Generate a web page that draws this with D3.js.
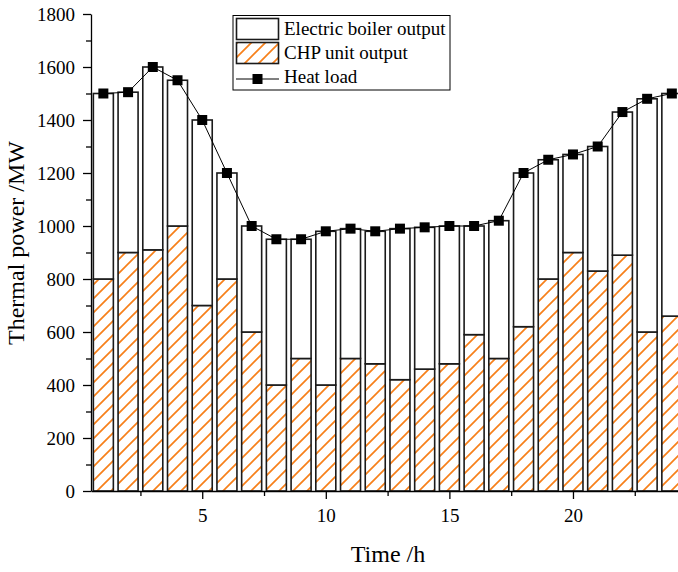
<!DOCTYPE html>
<meta charset="utf-8">
<style>
body { margin: 0; background: #fff; }
svg { display: block; font-family: "Liberation Serif", "Times New Roman", serif; }
.axis path, .axis line { stroke: #000; stroke-width: 1.3; }
.axis text { font-size: 19px; fill: #000; font-family: "Liberation Serif", "Times New Roman", serif; }
</style>
<svg width="678" height="572"></svg>
<script src="https://d3js.org/d3.v7.min.js"></script>
<script>

// hourly values (MW)
var hours = d3.range(1, 25);
var heatLoad = [1500,1505,1600,1550,1400,1200,1000,950,950,980,990,980,
                990,995,1000,1000,1020,1200,1250,1270,1300,1430,1480,1500];
var chpOutput = [800,900,910,1000,700,800,600,400,500,400,500,480,
                 420,460,480,590,500,620,800,900,830,890,600,660];
var boilerOutput = [700,605,690,550,700,400,400,550,450,580,490,500,
                    570,535,520,410,520,580,450,370,470,540,880,840];
var yTicks = [0,200,400,600,800,1000,1200,1400,1600,1800];
var xTicks = [5,10,15,20];

var svg = d3.select("svg");

var x = d3.scaleLinear().domain([0.5, 24.5]).range([91, 684.2]);
var y = d3.scaleLinear().domain([0, 1800]).range([491, 14]);
var barW = 20;

var rows = hours.map(function(h, i) {
  return {hour: h, chp: chpOutput[i], boiler: boilerOutput[i], load: heatLoad[i]};
});
var stack = d3.stack().keys(["chp", "boiler"])(rows);

var orange = "#f7801a";
var defs = svg.append("defs");
var pat = defs.append("pattern")
    .attr("id", "hatch")
    .attr("patternUnits", "userSpaceOnUse")
    .attr("width", 14).attr("height", 14);
pat.append("rect").attr("width", 14).attr("height", 14).attr("fill", "#fff");
pat.append("path")
    .attr("d", "M0,14L14,0M-3.5,3.5L3.5,-3.5M10.5,17.5L17.5,10.5")
    .attr("stroke", orange).attr("stroke-width", 1.7);

// bars
svg.append("g").selectAll("g")
  .data(stack)
  .enter().append("g")
    .attr("fill", function(d) { return d.key == "chp" ? "url(#hatch)" : "#fff"; })
  .selectAll("rect")
  .data(function(d) { return d; })
  .enter().append("rect")
    .attr("x", function(d) { return x(d.data.hour) - barW / 2; })
    .attr("y", function(d) { return y(d[1]); })
    .attr("width", barW)
    .attr("height", function(d) { return y(d[0]) - y(d[1]); })
    .attr("stroke", "#1a1a1a")
    .attr("stroke-width", 1.6);

// axes
var fmt = d3.format("d");
svg.append("g").attr("class", "axis")
    .attr("transform", "translate(91,0)")
    .call(d3.axisLeft(y).tickValues(yTicks).tickFormat(fmt).tickSize(8).tickPadding(8).tickSizeOuter(0));
svg.append("g").attr("class", "axis")
    .attr("transform", "translate(91,0)")
    .call(d3.axisLeft(y).tickValues(d3.range(100, 1800, 200)).tickSize(5).tickFormat("").tickSizeOuter(0))
    .select(".domain").remove();

svg.append("g").attr("class", "axis")
    .attr("transform", "translate(0,491)")
    .call(d3.axisBottom(x).tickValues(xTicks).tickFormat(fmt).tickSize(8).tickPadding(10).tickSizeOuter(0));
svg.append("g").attr("class", "axis")
    .attr("transform", "translate(0,491)")
    .call(d3.axisBottom(x).tickValues([2.5,7.5,12.5,17.5,22.5]).tickSize(5).tickFormat("").tickSizeOuter(0))
    .select(".domain").remove();

// heat load line
var line = d3.line()
    .x(function(d) { return x(d.hour); })
    .y(function(d) { return y(d.load); });
svg.append("path")
    .datum(rows)
    .attr("fill", "none")
    .attr("stroke", "#000")
    .attr("stroke-width", 1)
    .attr("d", line);
svg.append("g").selectAll("rect")
  .data(rows)
  .enter().append("rect")
    .attr("x", function(d) { return x(d.hour) - 5; })
    .attr("y", function(d) { return y(d.load) - 5; })
    .attr("width", 10).attr("height", 10)
    .attr("fill", "#000");

// axis titles
svg.append("text")
    .attr("x", 388).attr("y", 562)
    .attr("text-anchor", "middle")
    .attr("font-size", 24)
    .attr("fill", "#000")
    .text("Time /h");
svg.append("text")
    .attr("transform", "translate(24,243) rotate(-90)")
    .attr("text-anchor", "middle")
    .attr("font-size", 24)
    .attr("fill", "#000")
    .text("Thermal power /MW");

// legend
var lg = svg.append("g");
lg.append("rect")
    .attr("x", 233).attr("y", 15.5).attr("width", 217).attr("height", 74.5)
    .attr("fill", "#fff").attr("stroke", "#000").attr("stroke-width", 1);
lg.append("rect")
    .attr("x", 236.5).attr("y", 18.5).attr("width", 42).attr("height", 21)
    .attr("fill", "#fff").attr("stroke", "#1a1a1a").attr("stroke-width", 1.6);
lg.append("rect")
    .attr("x", 236.5).attr("y", 42.5).attr("width", 42).attr("height", 21)
    .attr("fill", "url(#hatch)").attr("stroke", "#1a1a1a").attr("stroke-width", 1.6);
lg.append("line")
    .attr("x1", 236).attr("x2", 279).attr("y1", 79).attr("y2", 79)
    .attr("stroke", "#000").attr("stroke-width", 1);
lg.append("rect")
    .attr("x", 252.5).attr("y", 74).attr("width", 10).attr("height", 10)
    .attr("fill", "#000");
var labels = ["Electric boiler output", "CHP unit output", "Heat load"];
lg.selectAll("text.lab")
  .data(labels)
  .enter().append("text")
    .attr("class", "lab")
    .attr("x", 284)
    .attr("y", function(d, i) { return 35 + i * 24; })
    .attr("font-size", 19)
    .attr("fill", "#000")
    .text(function(d) { return d; });

</script>
